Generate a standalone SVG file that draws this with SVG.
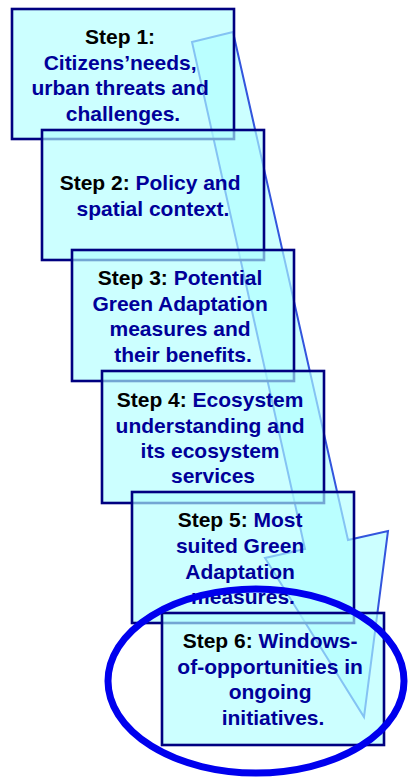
<svg xmlns="http://www.w3.org/2000/svg" width="410" height="778" viewBox="0 0 410 778">
  <style>
    .box { fill: #b1ffff; fill-opacity: 0.65; stroke: #000080; stroke-width: 2.6; }
    .arrow { fill: #ccffff; stroke: #3355dd; stroke-width: 2; stroke-linejoin: miter; }
    .label { font-family: "Liberation Sans", Arial, sans-serif; font-weight: bold; font-size: 21px; text-anchor: middle; fill: #000099; }
    .step { fill: #000000; }
    .ring { fill: none; stroke: #0000ee; stroke-width: 7; }
  </style>

  <rect width="410" height="778" fill="#ffffff"/>

  <!-- flow arrow running down behind the steps -->
  <g id="connectors">
    <polygon class="arrow" points="192,42 233,32 348,540 388,531 364,717 265,558 305,549"/>
  </g>

  <g id="step1">
    <rect class="box" x="12" y="9" width="222" height="130"/>
    <text class="label">
      <tspan x="123" y="44" class="step">Step 1:</tspan>
      <tspan x="123" y="69.5">Citizens’needs,</tspan>
      <tspan x="123" y="95">urban threats and</tspan>
      <tspan x="123" y="120.5">challenges.</tspan>
    </text>
  </g>

  <g id="step2">
    <rect class="box" x="42" y="130" width="222" height="130"/>
    <text class="label">
      <tspan x="153" y="190"><tspan class="step">Step 2:</tspan> Policy and</tspan>
      <tspan x="153" y="215.5">spatial context.</tspan>
    </text>
  </g>

  <g id="step3">
    <rect class="box" x="72" y="250" width="222" height="131"/>
    <text class="label">
      <tspan x="183" y="285"><tspan class="step">Step 3:</tspan> Potential</tspan>
      <tspan x="183" y="310.5">Green Adaptation</tspan>
      <tspan x="183" y="336">measures and</tspan>
      <tspan x="183" y="361.5">their benefits.</tspan>
    </text>
  </g>

  <g id="step4">
    <rect class="box" x="102" y="371" width="222" height="132"/>
    <text class="label">
      <tspan x="213" y="407"><tspan class="step">Step 4:</tspan> Ecosystem</tspan>
      <tspan x="213" y="432.5">understanding and</tspan>
      <tspan x="213" y="458">its ecosystem</tspan>
      <tspan x="213" y="483">services</tspan>
    </text>
  </g>

  <g id="step5">
    <rect class="box" x="132" y="492" width="222" height="131"/>
    <text class="label">
      <tspan x="243" y="527"><tspan class="step">Step 5:</tspan> Most</tspan>
      <tspan x="243" y="553">suited Green</tspan>
      <tspan x="243" y="578.5">Adaptation</tspan>
      <tspan x="243" y="604">measures.</tspan>
    </text>
  </g>

  <g id="step6">
    <rect class="box" x="162" y="613" width="222" height="132"/>
    <text class="label">
      <tspan x="273" y="648"><tspan class="step">Step 6:</tspan> Windows-</tspan>
      <tspan x="273" y="673.5">of-opportunities in</tspan>
      <tspan x="273" y="699">ongoing</tspan>
      <tspan x="273" y="724.5">initiatives.</tspan>
    </text>
  </g>

  <!-- emphasis ring around the last step -->
  <g id="highlight">
    <ellipse class="ring" cx="256" cy="681" rx="148" ry="92"/>
  </g>
</svg>
